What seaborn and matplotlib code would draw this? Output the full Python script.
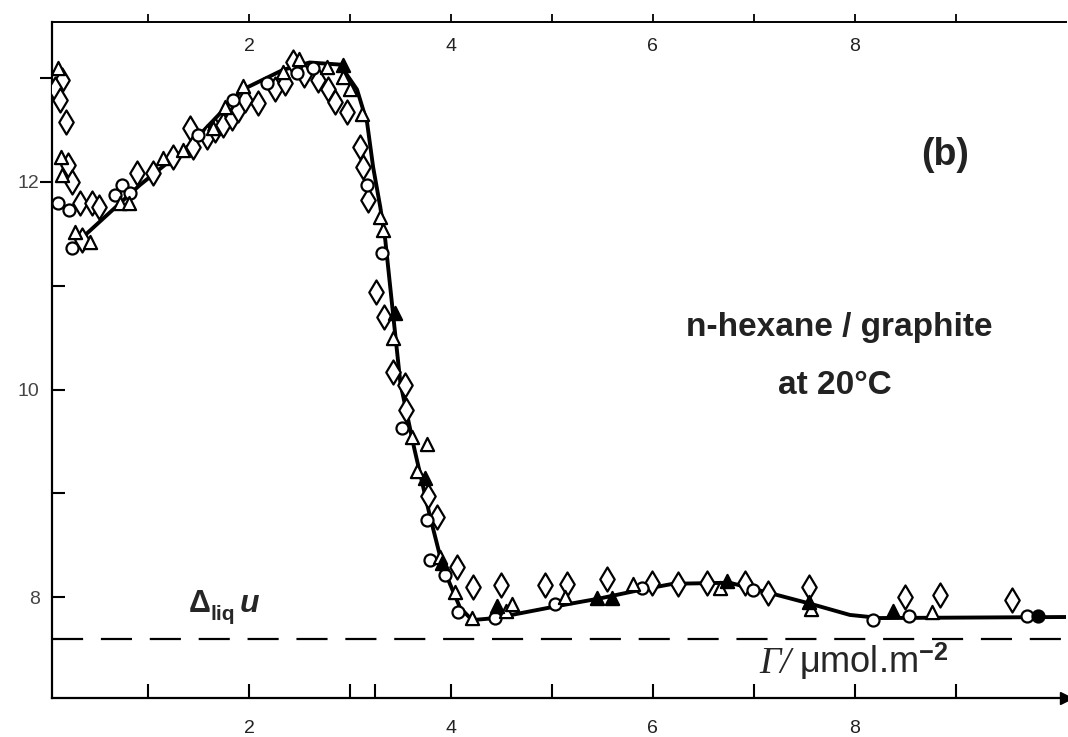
import numpy as np
import matplotlib
matplotlib.use('Agg')
import matplotlib.pyplot as plt
import matplotlib.lines as mlines
import seaborn as sns

# open diamonds
dia_x = [0.15, 0.08, 0.13, 0.19, 0.21, 0.25, 0.33, 0.45, 0.52, 0.35, 0.89, 1.05, 1.25, 1.45,
         1.42, 1.58, 1.66, 1.74, 1.83, 1.89, 1.96, 2.09, 2.26, 2.36, 2.44, 2.55, 2.68, 2.78,
         2.85, 2.97, 3.10, 3.13, 3.18, 3.26, 3.34, 3.43, 3.55, 3.56, 3.77, 3.86, 4.06, 4.22,
         4.50, 4.93, 5.15, 5.55, 5.99, 6.25, 6.54, 6.91, 7.14, 7.55, 8.50, 8.84, 9.56]
dia_y = [12.98, 12.89, 12.79, 12.58, 12.16, 12.00, 11.80, 11.80, 11.76, 11.44, 12.09, 12.09,
         12.24, 12.34, 12.52, 12.43, 12.50, 12.55, 12.62, 12.69, 12.79, 12.76, 12.89, 12.95,
         13.15, 13.03, 12.98, 12.89, 12.77, 12.67, 12.34, 12.14, 11.83, 10.94, 10.70, 10.17,
         10.04, 9.80, 8.98, 8.77, 8.29, 8.10, 8.12, 8.12, 8.13, 8.18, 8.14, 8.13, 8.14, 8.14,
         8.04, 8.10, 8.00, 8.02, 7.97]

# open circles
circ_x = [0.11, 0.22, 0.25, 0.67, 0.74, 0.82, 1.50, 1.84, 2.18, 2.48, 2.63, 3.17, 3.32, 3.52,
          3.76, 3.79, 3.94, 4.07, 4.44, 5.03, 5.89, 6.99, 8.18, 8.54, 9.70]
circ_y = [11.80, 11.73, 11.36, 11.87, 11.97, 11.89, 12.45, 12.79, 12.95, 13.05, 13.10, 11.97,
          11.32, 9.63, 8.74, 8.36, 8.21, 7.86, 7.80, 7.94, 8.09, 8.07, 7.78, 7.82, 7.82]

# open triangles
tri_x = [0.11, 0.14, 0.15, 0.28, 0.43, 0.72, 0.81, 1.15, 1.35, 1.64, 1.76, 1.94, 2.34, 2.50,
         2.77, 2.93, 3.00, 3.12, 3.30, 3.33, 3.43, 3.61, 3.76, 3.66, 3.89, 4.04, 4.21, 4.55,
         4.60, 5.13, 5.80, 6.66, 7.57, 8.76]
tri_y = [13.10, 12.24, 12.07, 11.52, 11.42, 11.80, 11.80, 12.23, 12.31, 12.52, 12.72, 12.92,
         13.06, 13.18, 13.11, 13.01, 12.89, 12.65, 11.66, 11.54, 10.50, 9.54, 9.48, 9.22, 8.39,
         8.05, 7.80, 7.87, 7.94, 8.00, 8.13, 8.09, 7.89, 7.86]

# filled triangles
ftri_x = [2.93, 3.45, 3.74, 3.91, 4.46, 5.45, 5.59, 6.73, 7.55, 8.38]
ftri_y = [13.13, 10.74, 9.15, 8.33, 7.92, 7.99, 7.99, 8.16, 7.95, 7.87]

# filled circles
fcirc_x = [9.81]
fcirc_y = [7.82]

# fitted curve
curve_x = [0.38, 0.92, 1.42, 1.94, 2.34, 2.60, 2.90, 3.07, 3.17, 3.23, 3.30, 3.35, 3.43, 3.50,
           3.64, 3.79, 3.92, 4.09, 4.21, 4.44, 5.08, 5.48, 5.87, 6.20, 6.76, 7.16, 7.55, 7.95,
           8.25, 10.10]
curve_y = [11.49, 11.97, 12.36, 12.89, 13.08, 13.15, 13.13, 12.89, 12.57, 12.14, 11.76, 11.44,
           10.70, 10.06, 9.42, 8.79, 8.29, 7.90, 7.78, 7.80, 7.92, 7.99, 8.07, 8.13, 8.14, 8.04,
           7.94, 7.83, 7.80, 7.81]

liq_level = 7.6

bottom_major = [2, 4, 6, 8]
bottom_minor = [1, 3, 3.25, 5, 7, 9]
top_major = [2, 4, 6, 8]
top_minor = [1, 3, 5, 7, 9]
left_major = [8, 10, 12]
left_minor = [9, 11, 13]

sns.set_theme(style='white')
plt.rcParams['font.family'] = ['Liberation Sans', 'DejaVu Sans']
plt.rcParams['mathtext.fontset'] = 'custom'
plt.rcParams['mathtext.rm'] = 'Liberation Sans'
plt.rcParams['mathtext.it'] = 'Liberation Serif:italic'
plt.rcParams['mathtext.bf'] = 'Liberation Sans:bold'

fig = plt.figure(figsize=(10.68, 7.37), dpi=100)
ax = fig.add_axes([52 / 1068, 39 / 737, 1014 / 1068, 676 / 737])

sns.lineplot(x=curve_x, y=curve_y, sort=False, estimator=None, color='black', lw=2.8,
             ax=ax, zorder=2)

def pts(x, y, marker, size, filled):
    sns.scatterplot(x=x, y=y, marker=marker, s=size, color='black' if filled else 'white',
                    edgecolor='black', linewidth=1.6, ax=ax, zorder=3, legend=False)

pts(dia_x, dia_y, 'd', 150, False)
pts(circ_x, circ_y, 'o', 75, False)
pts(tri_x, tri_y, '^', 90, False)
pts(ftri_x, ftri_y, '^', 90, True)
pts(fcirc_x, fcirc_y, 'o', 75, True)

ax.axhline(liq_level, color='black', lw=1.6, ls=(0, (14, 8)), zorder=1)

ax.set_xlim(0.05, 10.09)
ax.set_ylim(7.03, 13.54)

for s in ['top', 'right']:
    ax.spines[s].set_visible(False)
for s in ['left', 'bottom']:
    ax.spines[s].set_color('black')
    ax.spines[s].set_linewidth(1.6)
ax.plot(1, 0, marker='>', color='black', markersize=8, transform=ax.transAxes, clip_on=False)

ax.set_xticks(bottom_major)
ax.set_xticks(bottom_minor, minor=True)
ax.tick_params(axis='x', which='both', direction='in', length=10, width=1.5, color='black',
               bottom=True, labelsize=14, pad=16, labelcolor='#222222')
ax.set_yticks(left_major)
ax.set_yticks(left_minor, minor=True)
ax.tick_params(axis='y', which='both', direction='in', length=9, width=1.5, color='black',
               left=True, labelsize=14, pad=9, labelcolor='#444444')

sec = ax.secondary_xaxis('top')
sec.set_xticks(top_major)
sec.set_xticks(top_minor, minor=True)
sec.tick_params(which='both', direction='out', length=6, width=1.3, color='black',
                labelsize=14, pad=-30, labelcolor='#222222')
sec.spines['top'].set_linewidth(1.4)
sec.spines['top'].set_color('black')

ax.text(8.89, 12.26, '(b)', fontsize=27, fontweight='bold', ha='center', va='center',
        color='#222222')
ax.text(7.84, 10.60, 'n-hexane / graphite', fontsize=24, fontweight='bold', ha='center',
        va='center', color='#222222')
ax.text(7.80, 10.04, 'at 20°C', fontsize=24, fontweight='bold', ha='center', va='center',
        color='#222222')

ax.text(1.40, 7.86, 'Δ', fontsize=22, fontweight='bold', ha='left', va='baseline')
ax.annotate('liq', xy=(1.40, 7.86), xytext=(16, -6), textcoords='offset points',
            fontsize=15, fontweight='bold', ha='left', va='baseline')
ax.annotate('u', xy=(1.40, 7.86), xytext=(37, 0), textcoords='offset points',
            fontsize=23, fontweight='bold', fontstyle='italic', ha='left', va='baseline')

ax.text(7.05, 7.27, 'Γ/', family='Liberation Serif', fontstyle='italic', fontsize=27,
        ha='left', va='baseline')
ax.annotate(r'μmol.m$^{\mathbf{-2}}$', xy=(7.05, 7.27), xytext=(29, 0),
            textcoords='offset points', fontsize=26, ha='left', va='baseline')

# left ticks: the upper two point outward in the original
ax.yaxis.get_major_ticks()[2].tick1line.set_marker(mlines.TICKLEFT)
ax.yaxis.get_minor_ticks()[2].tick1line.set_marker(mlines.TICKLEFT)

fig.savefig('out.png', dpi=100, facecolor='white')
